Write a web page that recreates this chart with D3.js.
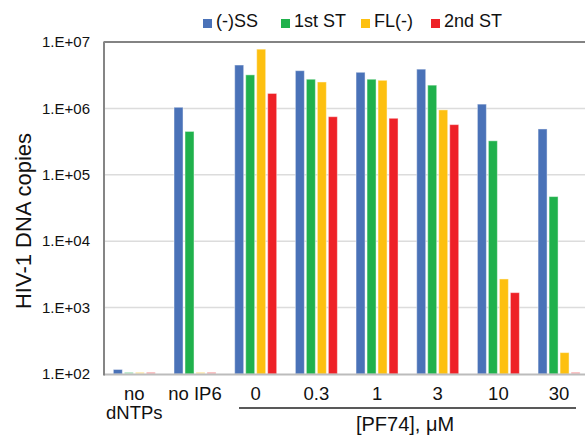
<!DOCTYPE html>
<html>
<head>
<meta charset="utf-8">
<script src="https://cdn.jsdelivr.net/npm/d3@7"></script>
<style>
   body { margin: 0; background: #fff; }
   svg { font-family: Arial, "Liberation Sans", sans-serif; display: block; }
</style>
</head>
<body>
<div id="chart"></div>
<script>
// HIV-1 DNA copies - log scale grouped bars

// 1) Data

var categories = ['no dNTPs', 'no IP6', '0', '0.3', '1', '3', '10', '30'];
var series = ['(-)SS', '1st ST', 'FL(-)', '2nd ST'];
var colors = ['#4a72b8', '#20b14c', '#fdc010', '#ee2127'];

// values per series, one per category (100 = not detected, sits on the axis floor)
var ssValues  = [117, 1.04e6, 4.5e6, 3.7e6, 3.5e6, 3.9e6, 1.16e6, 4.9e5];
var st1Values = [100, 4.5e5, 3.2e6, 2.75e6, 2.75e6, 2.24e6, 3.25e5, 4.7e4];
var flValues  = [100, 100, 7.8e6, 2.5e6, 2.65e6, 9.5e5, 2.7e3, 210];
var st2Values = [100, 100, 1.68e6, 7.5e5, 7.1e5, 5.7e5, 1.68e3, 100];

var yTicks = [1e2, 1e3, 1e4, 1e5, 1e6, 1e7];
var yTickLabels = ['1.E+02', '1.E+03', '1.E+04', '1.E+05', '1.E+06', '1.E+07'];

// 2) Layout

var width = 585, height = 436;
var margin = {top: 42, left: 104, bottom: 374, right: 589.4};

var svg = d3.select('#chart').append('svg')
    .attr('width', width)
    .attr('height', height);

var x = d3.scaleBand()
    .domain(categories)
    .range([margin.left, margin.right])
    .padding(0);

var xInner = d3.scaleBand()
    .domain(series)
    .range([x.bandwidth() / 2 - 21, x.bandwidth() / 2 + 21])
    .paddingInner(2 / 11)
    .paddingOuter(0);

var y = d3.scaleLog()
    .domain([1e2, 1e7])
    .range([margin.bottom, margin.top]);

// gridlines
svg.append('g')
   .selectAll('line')
   .data(yTicks.slice(1, 5))
   .enter().append('line')
      .attr('x1', margin.left).attr('x2', width)
      .attr('y1', function(d) { return y(d); })
      .attr('y2', function(d) { return y(d); })
      .attr('stroke', '#dcdcdc')
      .attr('stroke-width', 1.5);

// top border
svg.append('line')
   .attr('x1', margin.left).attr('x2', width)
   .attr('y1', y(1e7)).attr('y2', y(1e7))
   .attr('stroke', '#5a5a5a')
   .attr('stroke-width', 1.5);

// bars
var seriesData = [ssValues, st1Values, flValues, st2Values];
var rows = [];
seriesData.forEach(function(vals, s) {
   vals.forEach(function(v, i) {
      rows.push({cat: categories[i], key: series[s], color: colors[s], value: v});
   });
});

svg.append('g')
   .selectAll('rect')
   .data(rows)
   .enter().append('rect')
      .attr('x', function(d) { return x(d.cat) + xInner(d.key); })
      .attr('width', xInner.bandwidth())
      .attr('y', function(d) { return Math.min(y(d.value), y(1e2) - 2); })
      .attr('height', function(d) { return Math.max(y(1e2) - y(d.value), 2); })
      .attr('fill', function(d) { return d.color; })
      .attr('fill-opacity', function(d) { return d.value <= 100 ? 0.35 : 1; })
      .attr('stroke', 'rgba(255,255,255,0.45)')
      .attr('stroke-width', 1);

// axes lines
svg.append('line')
   .attr('x1', margin.left).attr('x2', width)
   .attr('y1', y(1e2) + 0.5).attr('y2', y(1e2) + 0.5)
   .attr('stroke', '#bcbcbc')
   .attr('stroke-width', 2);

svg.append('line')
   .attr('x1', margin.left).attr('x2', margin.left)
   .attr('y1', y(1e7) - 0.5).attr('y2', y(1e2) + 1.5)
   .attr('stroke', '#858585')
   .attr('stroke-width', 2);

// y tick labels
svg.append('g')
   .selectAll('text')
   .data(yTicks)
   .enter().append('text')
      .attr('x', 90)
      .attr('y', function(d) { return y(d); })
      .attr('dy', '0.35em')
      .attr('text-anchor', 'end')
      .attr('font-size', 15)
      .attr('fill', '#111')
      .text(function(d, i) { return yTickLabels[i]; });

// y title
svg.append('text')
   .attr('transform', 'translate(31,' + 221 + ') rotate(-90)')
   .attr('text-anchor', 'middle')
   .attr('font-size', 22)
   .attr('fill', '#111')
   .text('HIV-1 DNA copies');

// x labels (first one wraps on two lines)
var xLabels = svg.append('g')
   .selectAll('text')
   .data(categories)
   .enter().append('text')
      .attr('x', function(d) { return x(d) + x.bandwidth() / 2; })
      .attr('y', 400)
      .attr('text-anchor', 'middle')
      .attr('font-size', 18.5)
      .attr('fill', '#111');

xLabels.each(function(d) {
   var parts = d === 'no dNTPs' ? ['no', 'dNTPs'] : [d];
   var t = d3.select(this);
   parts.forEach(function(p, k) {
      t.append('tspan')
         .attr('x', x(d) + x.bandwidth() / 2)
         .attr('dy', k === 0 ? 0 : 19)
         .text(p);
   });
});

// PF74 bracket line and label
svg.append('line')
   .attr('x1', 239).attr('x2', 576)
   .attr('y1', 408).attr('y2', 408)
   .attr('stroke', '#222')
   .attr('stroke-width', 1.5);

svg.append('text')
   .attr('x', 405)
   .attr('y', 431)
   .attr('text-anchor', 'middle')
   .attr('font-size', 20)
   .attr('fill', '#111')
   .text('[PF74], \u03BCM');

// legend
var legendX = [203, 281, 361, 431];
var legend = svg.append('g')
   .selectAll('g')
   .data(series)
   .enter().append('g')
      .attr('transform', function(d, i) { return 'translate(' + legendX[i] + ',0)'; });

legend.append('rect')
   .attr('x', 0).attr('y', 19)
   .attr('width', 9).attr('height', 9)
   .attr('fill', function(d, i) { return colors[i]; });

legend.append('text')
   .attr('x', 13)
   .attr('y', 27)
   .attr('font-size', 18)
   .attr('fill', '#111')
   .text(function(d) { return d; });
</script>
</body>
</html>
